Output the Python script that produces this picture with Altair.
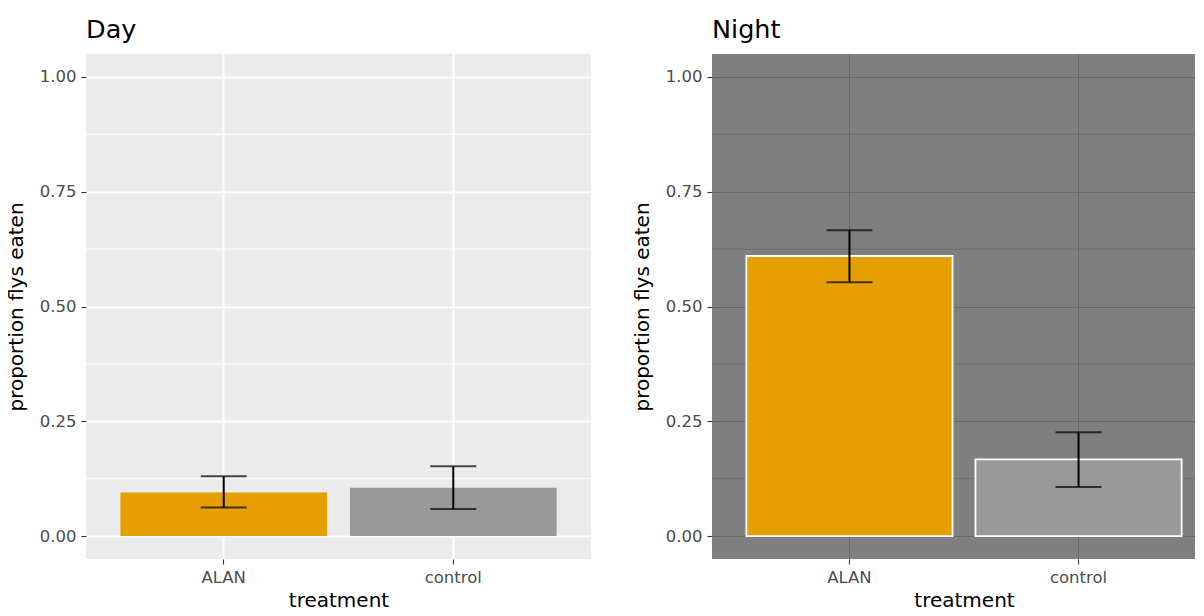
import altair as alt
import pandas as pd

# ---- data ----
treatments = ["ALAN", "control"]
bar_colors = ["#E69F00", "#999999"]

day_mean = [0.095, 0.105]
day_low = [0.062, 0.059]
day_high = [0.130, 0.152]

night_mean = [0.610, 0.167]
night_low = [0.553, 0.107]
night_high = [0.666, 0.226]

y_major = [0.0, 0.25, 0.5, 0.75, 1.0]
y_minor = [0.125, 0.375, 0.625, 0.875]
y_domain = [-0.05, 1.05]

FONT = "DejaVu Sans"
PANEL_H = 505


def panel(title, mean, low, high, bg, grid_major, grid_minor, major_w, minor_w,
          bar_stroke, bar_stroke_w, width):
    df = pd.DataFrame({"treatment": treatments, "mean": mean, "low": low, "high": high})
    minor_df = pd.DataFrame({"v": y_minor})

    xscale = alt.Scale(domain=treatments, paddingInner=0.1, paddingOuter=0.15)
    yscale = alt.Scale(domain=y_domain, nice=False, zero=False)

    x_enc = alt.X(
        "treatment:N", scale=xscale, sort=treatments,
        axis=alt.Axis(title="treatment", bandPosition=0.5, grid=True, ticks=True,
                      gridColor=grid_major, gridWidth=major_w, labelAngle=0,
                      domain=False),
    )
    y_axis = alt.Axis(title="proportion flys eaten", values=y_major, format=".2f",
                      grid=True, gridColor=grid_major, gridWidth=major_w,
                      ticks=True, domain=False)

    minor = alt.Chart(minor_df).mark_rule(color=grid_minor, strokeWidth=minor_w).encode(
        y=alt.Y("v:Q", scale=yscale, axis=y_axis)
    )

    bar_kwargs = {}
    if bar_stroke is not None:
        bar_kwargs = dict(stroke=bar_stroke, strokeWidth=bar_stroke_w)
    bars = alt.Chart(df).mark_bar(**bar_kwargs).encode(
        x=x_enc,
        y=alt.Y("mean:Q", scale=yscale, axis=y_axis),
        color=alt.Color("treatment:N", scale=alt.Scale(domain=treatments, range=bar_colors),
                        legend=None),
    )

    err = alt.Chart(df).mark_rule(color="black", strokeWidth=2).encode(
        x=x_enc,
        y=alt.Y("low:Q", scale=yscale, axis=y_axis),
        y2="high:Q",
    )
    cap_lo = alt.Chart(df).mark_tick(color="black", size=46, thickness=2, orient="horizontal").encode(
        x=x_enc, y=alt.Y("low:Q", scale=yscale, axis=y_axis)
    )
    cap_hi = alt.Chart(df).mark_tick(color="black", size=46, thickness=2, orient="horizontal").encode(
        x=x_enc, y=alt.Y("high:Q", scale=yscale, axis=y_axis)
    )

    return alt.layer(minor, bars, err, cap_lo, cap_hi).properties(
        width=width, height=PANEL_H,
        title=alt.TitleParams(title, anchor="start", frame="group", fontSize=25.5,
                              font=FONT, color="black", fontWeight="normal", offset=11),
        view=alt.ViewBackground(fill=bg, stroke=None),
    )


day = panel("Day", day_mean, day_low, day_high, "#EBEBEB", "#FFFFFF", "#FFFFFF",
            2, 1, None, 0, 505)
night = panel("Night", night_mean, night_low, night_high, "#7F7F7F", "#686868", "#6E6E6E",
              1, 1, "#FFFFFF", 1.8, 504)

chart = alt.hconcat(day, night, spacing=121, bounds="flush").properties(
    padding={"left": -2, "top": 9, "right": -22, "bottom": -3.5}
).configure(font=FONT).configure_view(stroke=None).configure_axis(
    labelFont=FONT, labelFontSize=16.5, labelColor="#4D4D4D",
    titleFont=FONT, titleFontSize=20, titleColor="black", titleFontWeight="normal",
    tickColor="#333333", tickSize=5, tickWidth=1.1,
).configure_axisX(labelPadding=5, titlePadding=4.5).configure_axisY(
    labelPadding=5, titlePadding=13
)

chart.save("out.html", embed_options={"renderer": "svg", "actions": False})
